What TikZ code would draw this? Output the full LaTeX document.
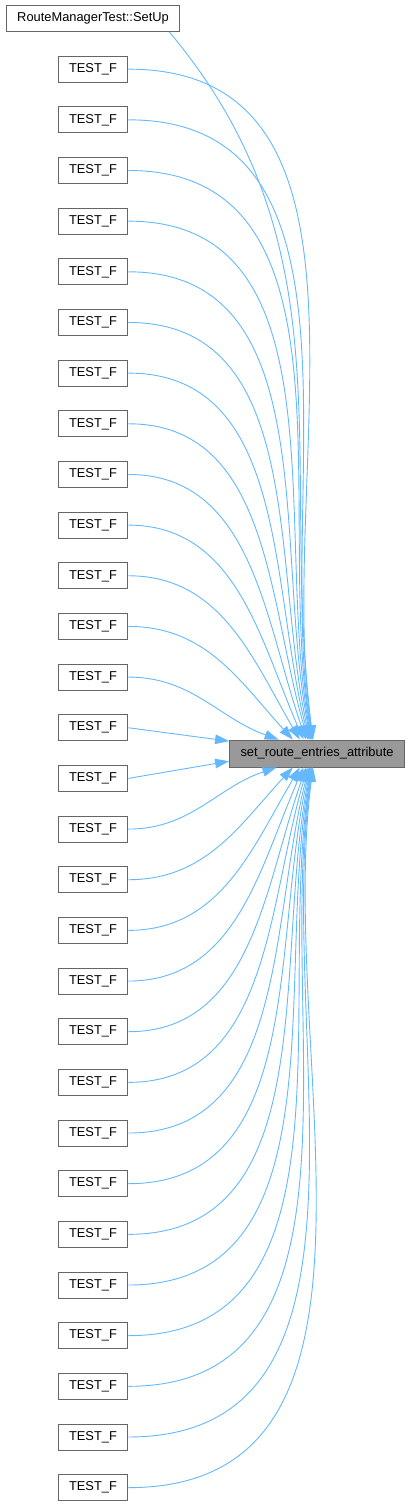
\documentclass[tikz,border=0pt]{standalone}
\usepackage{fontspec}
\setmainfont{Liberation Sans}
\usepackage{tikz}
\usetikzlibrary{arrows.meta, positioning}
\definecolor{edgeblue}{RGB}{99,184,255}
\definecolor{boxgray}{RGB}{102,102,102}
\definecolor{fillgray}{RGB}{153,153,153}
\begin{document}
\begin{tikzpicture}[x=1pt,y=1pt,font=\fontsize{12.86pt}{15pt}\selectfont,>={Triangle[length=14pt,width=9.5pt]}]

	\tikzset{fn/.style={draw=boxgray, fill=white, line width=0.9pt,
			inner xsep=11pt, inner ysep=0pt, text height=9.5pt, text depth=3pt,
			minimum height=26pt}}
	\tikzset{call/.style={->, draw=edgeblue, line width=0.9pt}}

	\useasboundingbox (0,0) rectangle (410,-1507);

	\node[fn] (t0) at (93,-18.5) {RouteManagerTest::SetUp};
	\foreach \i [remember=\i as \j (initially 0)] in {1,...,29}
		\node[fn, below=23.76pt of t\j] (t\i) {TEST\_F};
	\node[fn, fill=fillgray, minimum height=27pt] (m) at (317,-753.5) {set\_route\_entries\_attribute};

	% callers above
	\draw[call] (t0.-10) to[out=-50,in=97] (m.106);
	\foreach \i in {1,...,13}{
		\pgfmathsetmacro\d{753.5-69-50.66*(\i-1)}
		\pgfmathtruncatemacro\a{atan2(13.5,-3000/\d)}
		\pgfmathsetmacro\b{90+5400/\d}
		\draw[call] (t\i.east) to[out=0,in=\b] (m.\a);
	}
	% callers level with it
	\draw[call] (t14.east) -- (m.172);
	\draw[call] (t15.east) -- (m.185);
	% callers below
	\foreach \i in {16,...,29}{
		\pgfmathsetmacro\d{69+50.66*(\i-1)-753.5}
		\pgfmathtruncatemacro\a{atan2(-13.5,-3000/\d)}
		\pgfmathsetmacro\b{-90-5400/\d}
		\draw[call] (t\i.east) to[out=0,in=\b] (m.\a);
	}
\end{tikzpicture}
\end{document}
